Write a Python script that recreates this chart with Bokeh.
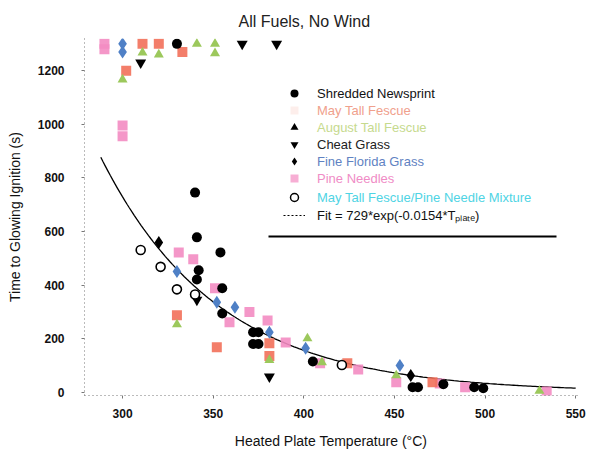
import numpy as np
from bokeh.plotting import figure
from bokeh.models import (Range1d, FixedTicker, Legend, LegendItem, ColumnDataSource, Arrow)
from bokeh.embed import file_html
from bokeh.resources import INLINE

# ---------------- data ----------------
newsprint_T = [330, 340, 341, 354, 342, 341, 355, 355, 372, 375, 372, 375, 405, 460, 463, 477, 494, 499]
newsprint_t = [1300, 745, 578, 522, 455, 421, 388, 294, 224, 224, 180, 180, 115, 19, 19, 30, 19, 15]

may_fescue_T = [311, 320, 333, 302, 330, 352, 381, 381, 424, 471]
may_fescue_t = [1300, 1300, 1270, 1200, 287, 168, 183, 135, 108, 37]

aug_fescue_T = [300, 311, 320, 341, 351, 351, 330, 381, 402, 451, 410, 530]
aug_fescue_t = [1167, 1267, 1260, 1300, 1300, 1265, 253, 120, 201, 63, 112, 5]

cheat_T = [310, 366, 385, 341, 381]
cheat_t = [1230, 1300, 1300, 345, 58]

florida_T = [300, 300, 330, 352, 362, 381, 401, 453]
florida_t = [1300, 1270, 451, 336, 317, 224, 164, 100]
florida_dark_T = [320, 459]
florida_dark_t = [559, 63]

pine_T = [290, 290, 300, 300, 331, 339, 351, 359, 370, 380, 390, 409, 430, 451, 475, 489, 534]
pine_t = [1300, 1280, 995, 955, 522, 496, 388, 261, 300, 268, 186, 108, 85, 37, 33, 19, 3]

mix_T = [310, 321, 330, 340, 421]
mix_t = [531, 468, 384, 365, 102]

fit_A, fit_k, fit_T0 = 729.0, 0.0154, 300.0
fit_Tmin, fit_Tmax = 288, 550

x_ticks = [300, 350, 400, 450, 500, 550]
y_ticks = [0, 200, 400, 600, 800, 1000, 1200]

# ---------------- figure ----------------
FONT = "Liberation Sans"
p = figure(width=591, height=454, output_backend="svg", toolbar_location=None,
           x_range=Range1d(279, 551), y_range=Range1d(-12, 1320),
           min_border_left=84, min_border_right=14, min_border_top=38, min_border_bottom=59,
           title="All Fuels, No Wind")
p.title.text_font = FONT
p.title.text_font_size = "16px"
p.title.text_font_style = "normal"
p.title.align = "left"
p.title.offset = 154
p.title.standoff = 18
p.title.text_color = "#222222"

p.outline_line_color = None
p.grid.visible = False
p.background_fill_color = "white"
p.border_fill_color = "white"

for ax in (p.xaxis[0], p.yaxis[0]):
    ax.axis_line_color = "#777777"
    ax.axis_line_dash = "1 3"
    ax.major_tick_line_color = "#777777"
    ax.major_tick_out = 3
    ax.major_tick_in = 0
    ax.minor_tick_line_color = None
    ax.major_label_text_font = FONT
    ax.major_label_text_font_size = "12px"
    ax.major_label_text_font_style = "bold"
    ax.major_label_text_color = "#111111"
    ax.axis_label_text_font = FONT
    ax.axis_label_text_font_size = "14px"
    ax.axis_label_text_font_style = "normal"
    ax.axis_label_text_color = "#111111"

p.xaxis.ticker = FixedTicker(ticks=x_ticks)
p.yaxis.ticker = FixedTicker(ticks=y_ticks)
p.xaxis.axis_label = "Heated Plate Temperature (°C)"
p.yaxis.axis_label = "Time to Glowing Ignition (s)"
p.xaxis.major_label_standoff = 10
p.yaxis.major_label_standoff = 17
p.xaxis.axis_label_standoff = 12
p.yaxis.axis_label_standoff = 12

# fit curve
fit_T = np.linspace(fit_Tmin, fit_Tmax, 200)
fit_t = fit_A * np.exp(-fit_k * (fit_T - fit_T0))
p.line(fit_T, fit_t, line_color="black", line_width=1.3)

PINK = "#f38cc2"
SALMON = "#f2705a"
GREEN = "#9cc85c"
BLUE = "#4f80c6"

p.scatter(pine_T, pine_t, marker="square", size=10, fill_color=PINK, line_color=None, fill_alpha=0.9)
p.scatter(may_fescue_T, may_fescue_t, marker="square", size=10, fill_color=SALMON, line_color=None, fill_alpha=0.9)
p.scatter(aug_fescue_T, aug_fescue_t, marker="triangle", size=10, fill_color=GREEN, line_color=None)
p.scatter(florida_T, florida_t, marker="diamond", size=13, fill_color=BLUE, line_color=None)
p.scatter(florida_dark_T, florida_dark_t, marker="diamond", size=13, fill_color="black", line_color=None)
p.scatter(cheat_T, cheat_t, marker="inverted_triangle", size=11, fill_color="black", line_color=None)
p.scatter(newsprint_T, newsprint_t, marker="circle", size=10, fill_color="black", line_color=None)
p.scatter(mix_T, mix_t, marker="circle", size=9, fill_color="white", line_color="black", line_width=1.6)

# ---------------- legend (one entry per row, each in its own text colour) ----------------
def nan_src():
    return ColumnDataSource(dict(x=[np.nan], y=[np.nan]))

def proxy(**kw):
    return p.scatter("x", "y", source=nan_src(), **kw)

entries = [
    ("Shredded Newsprint", "#111111", proxy(marker="circle", size=10, fill_color="black", line_color=None), 93),
    ("May Tall Fescue", "#f0a08c", proxy(marker="square", size=9, fill_color=SALMON, fill_alpha=0.12, line_color=None), 110),
    ("August Tall Fescue", "#c6da8e", proxy(marker="triangle", size=9, fill_color="black", line_color=None), 127),
    ("Cheat Grass", "#222222", proxy(marker="inverted_triangle", size=10, fill_color="black", line_color=None), 144),
    ("Fine Florida Grass", "#5f82c2", proxy(marker="diamond", size=12, fill_color="black", line_color=None), 161),
    ("Pine Needles", "#f08cc6", proxy(marker="square", size=9, fill_color=PINK, fill_alpha=0.7, line_color=None), 178),
    ("May Tall Fescue/Pine Needle Mixture", "#4fd4e4", proxy(marker="circle", size=8, fill_color="white", line_color="black", line_width=1.5), 197),
]
fit_proxy = p.line("x", "y", source=nan_src(), line_color="black", line_width=1, line_dash="2 2")
entries.append(("Fit = 729*exp(-0.0154*Tₚₗₐₜₑ)", "#111111", fit_proxy, 215))

frame_left, frame_bottom = 84, 395
GH = 20
for label, color, rend, yc in entries:
    lg = Legend(items=[LegendItem(label=label, renderers=[rend])],
                location=(283 - frame_left, frame_bottom - (yc + GH // 2)),
                padding=0, margin=0, spacing=0, border_line_color=None,
                background_fill_alpha=0, glyph_width=22, glyph_height=GH,
                label_height=GH, label_standoff=12,
                label_text_font=FONT, label_text_font_size="13px", label_text_color=color)
    p.add_layout(lg, "center")

# legend box bottom border
p.add_layout(Arrow(start=None, end=None, x_start=268 - frame_left, x_end=556 - frame_left,
                   y_start=frame_bottom - 236, y_end=frame_bottom - 236,
                   start_units="screen", end_units="screen", line_color="black", line_width=2))

open("out.html", "w").write(file_html(p, INLINE))
